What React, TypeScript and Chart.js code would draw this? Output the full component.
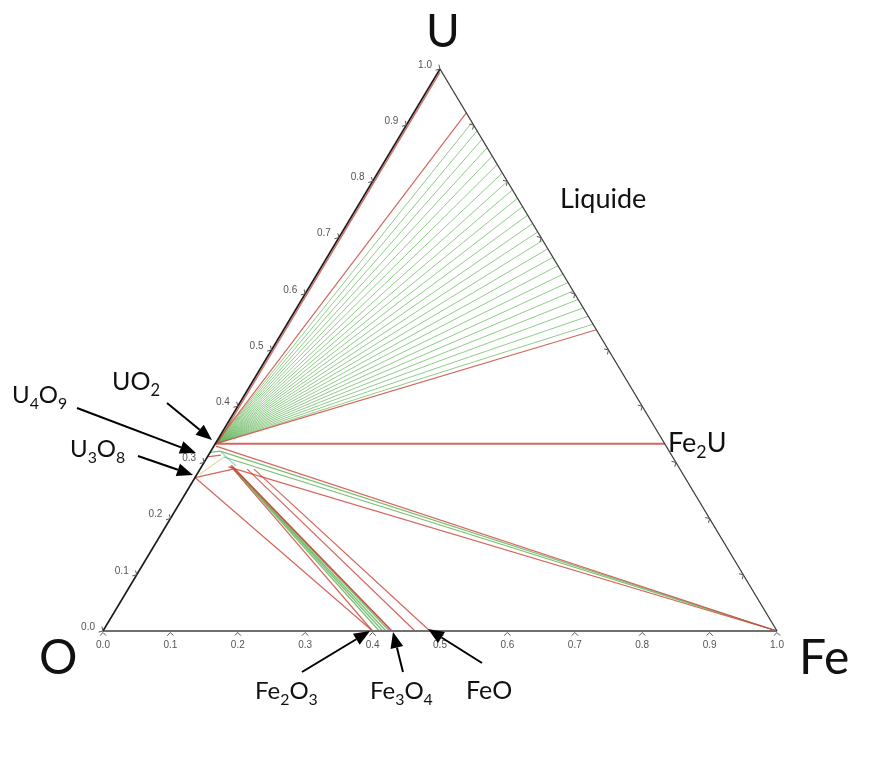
import React, { useEffect, useRef } from "react";
import { Chart, registerables } from "chart.js";

Chart.register(...registerables);

// ---------- data (compositions are [xFe, xU], xO = 1 - xFe - xU) ----------
const tickValues = [0, 0.1, 0.2, 0.3, 0.4, 0.5, 0.6, 0.7, 0.8, 0.9, 1.0];
const tickLabels = ["0.0", "0.1", "0.2", "0.3", "0.4", "0.5", "0.6", "0.7", "0.8", "0.9", "1.0"];

const UO2 = [0, 0.333];

// liquid compositions on the Fe–U edge (xU) tied to UO2
const liquidTieU = [
  0.905, 0.89, 0.875, 0.86, 0.845, 0.83, 0.815, 0.8, 0.785, 0.77, 0.755, 0.74, 0.725,
  0.71, 0.695, 0.68, 0.665, 0.65, 0.635, 0.62, 0.605, 0.59, 0.575, 0.56, 0.546,
];

// red tie-lines [xFe1, xU1, xFe2, xU2]
const redLines = [
  [0.003, 0.336, 0.003, 0.994],
  [0, 0.333, 0.078, 0.922],
  [0, 0.333, 0.464, 0.536],
  [0, 0.333, 0.667, 0.333],
  [0.003, 0.329, 1, 0],
  [0.04, 0.292, 1, 0],
  [0, 0.273, 0.049, 0.288],
  [0, 0.31, 0.0185, 0.313],
  [0, 0.273, 0.4, 0],
  [0.042, 0.294, 0.4, 0],
  [0.043, 0.295, 0.4286, 0],
  [0.05, 0.289, 0.4286, 0],
  [0.07, 0.288, 0.463, 0],
  [0.08, 0.288, 0.485, 0],
];

// green tie-lines [xFe1, xU1, xFe2, xU2]
const greenLines = [
  [0.0136, 0.32, 1, 0],
  [0.0247, 0.3096, 1, 0],
  [0, 0.318, 0.014, 0.32],
  [0.045, 0.292, 0.41, 0],
  [0.046, 0.292, 0.415, 0],
  [0.047, 0.291, 0.42, 0],
  [0.048, 0.291, 0.425, 0],
];

const cyanLines = [[0.0158, 0.3185, 0.0505, 0.2936]];
const yellowLines = [[0.004, 0.279, 0.0247, 0.3096]];

// ---------- annotation layout (pixels) ----------
const chemLabels = [
  { parts: ["U", "4", "O", "9"], x: 12, y: 403, size: 24 },
  { parts: ["U", "3", "O", "8"], x: 70, y: 457, size: 24 },
  { parts: ["UO", "2"], x: 112, y: 390, size: 25 },
  { parts: ["Fe", "2", "U"], x: 668, y: 452, size: 27 },
  { parts: ["Liquide"], x: 560, y: 208, size: 27 },
  { parts: ["Fe", "2", "O", "3"], x: 255, y: 699, size: 24 },
  { parts: ["Fe", "3", "O", "4"], x: 370, y: 699, size: 24 },
  { parts: ["FeO"], x: 466, y: 699, size: 25 },
];
const vertexLabels = [
  { text: "U", x: 443, y: 47, size: 46, align: "center" },
  { text: "O", x: 39, y: 674, size: 48, align: "left" },
  { text: "Fe", x: 799, y: 674, size: 48, align: "left" },
];
const arrows = [
  [167, 403, 212, 440],
  [77, 408, 196, 453],
  [138, 456, 193, 475],
  [302, 672, 370, 631],
  [403, 672, 393, 632],
  [482, 663, 428, 629],
];

const FONT = "Lato, 'Open Sans', 'DejaVu Sans', sans-serif";

function drawChem(ctx: CanvasRenderingContext2D, parts: string[], x: number, y: number, size: number) {
  let cx = x;
  parts.forEach((t, i) => {
    const sub = i % 2 === 1;
    const s = sub ? size * 0.66 : size;
    ctx.font = `${s}px ${FONT}`;
    ctx.fillText(t, cx, y + (sub ? size * 0.24 : 0));
    cx += ctx.measureText(t).width;
  });
}

const annotationPlugin = {
  id: "ternaryAnnotations",
  afterDatasetsDraw(chart: any) {
    const ctx: CanvasRenderingContext2D = chart.ctx;
    const sx = chart.scales.x;
    const sy = chart.scales.y;
    const px = (fe: number, u: number) => ({
      x: sx.getPixelForValue(fe + u / 2),
      y: sy.getPixelForValue(u),
    });
    ctx.save();
    ctx.strokeStyle = "#555";
    ctx.lineWidth = 1;
    ctx.fillStyle = "#555";
    ctx.font = "10px 'Liberation Sans', Arial, sans-serif";

    const chevron = (x: number, y: number, nx: number, ny: number) => {
      const L = 4.5;
      const c = Math.SQRT1_2;
      const a1 = { x: (nx * c - ny * c) * L, y: (nx * c + ny * c) * L };
      const a2 = { x: (nx * c + ny * c) * L, y: (-nx * c + ny * c) * L };
      ctx.beginPath();
      ctx.moveTo(x + a1.x, y + a1.y);
      ctx.lineTo(x, y);
      ctx.lineTo(x + a2.x, y + a2.y);
      ctx.stroke();
    };

    // bottom axis (xFe)
    tickValues.forEach((v, i) => {
      const p = px(v, 0);
      chevron(p.x, p.y + 1.5, 0, 1);
      ctx.textAlign = "center";
      ctx.textBaseline = "middle";
      ctx.fillText(tickLabels[i], p.x, p.y + 14);
    });
    // left edge (xU)
    const o = px(0, 0);
    const u = px(0, 1);
    const f = px(1, 0);
    let dx = u.x - o.x, dy = u.y - o.y;
    let len = Math.hypot(dx, dy);
    const nL = { x: dy / len, y: -dx / len };
    tickValues.forEach((v, i) => {
      const p = px(0, v);
      chevron(p.x, p.y, nL.x, nL.y);
      ctx.textAlign = "right";
      ctx.textBaseline = "middle";
      ctx.fillText(tickLabels[i], p.x - 8, p.y - 4);
    });
    // right edge
    dx = f.x - u.x; dy = f.y - u.y;
    len = Math.hypot(dx, dy);
    const nR = { x: -dy / len, y: dx / len };
    tickValues.slice(1, 10).forEach((v) => {
      const p = px(1 - v, v);
      chevron(p.x, p.y, nR.x, nR.y);
    });

    // chemical labels
    ctx.fillStyle = "#111";
    ctx.textAlign = "left";
    ctx.textBaseline = "alphabetic";
    chemLabels.forEach((l) => drawChem(ctx, l.parts, l.x, l.y, l.size));
    vertexLabels.forEach((l) => {
      ctx.font = `${l.size}px ${FONT}`;
      ctx.textAlign = l.align as CanvasTextAlign;
      ctx.fillText(l.text, l.x, l.y);
    });

    // arrows
    ctx.strokeStyle = "#000";
    ctx.fillStyle = "#000";
    ctx.lineWidth = 2;
    arrows.forEach(([x1, y1, x2, y2]) => {
      const ang = Math.atan2(y2 - y1, x2 - x1);
      const hl = 16, hw = 6.5;
      const bx = x2 - hl * Math.cos(ang);
      const by = y2 - hl * Math.sin(ang);
      ctx.beginPath();
      ctx.moveTo(x1, y1);
      ctx.lineTo(bx, by);
      ctx.stroke();
      ctx.beginPath();
      ctx.moveTo(x2, y2);
      ctx.lineTo(bx - hw * Math.sin(ang), by + hw * Math.cos(ang));
      ctx.lineTo(bx + hw * Math.sin(ang), by - hw * Math.cos(ang));
      ctx.closePath();
      ctx.fill();
    });
    ctx.restore();
  },
};

export default function App() {
  const ref = useRef<HTMLCanvasElement>(null);
  useEffect(() => {
    const canvas = ref.current;
    if (!canvas) return;
    const P = (fe: number, u: number) => ({ x: fe + u / 2, y: u });
    const datasets: any[] = [];
    const add = (data: any[], color: string, width: number) =>
      datasets.push({
        data,
        borderColor: color,
        backgroundColor: color,
        borderWidth: width,
        showLine: true,
        pointRadius: 0,
        pointHoverRadius: 0,
        fill: false,
        tension: 0,
        clip: false,
      });
    // triangle edges (drawn on top)
    add([P(0, 0), P(0, 1)], "#1a1a1a", 1.6);
    add([P(0, 1), P(1, 0)], "#3c3c3c", 1.3);
    add([P(0, 0), P(1, 0)], "#707070", 2.2);
    // red tie-lines
    redLines.forEach((l, i) =>
      add([P(l[0], l[1]), P(l[2], l[3])], "rgba(205,75,65,0.85)", i === 3 ? 2 : 1.2)
    );
    // green tie-lines
    liquidTieU.forEach((u) => add([P(UO2[0], UO2[1]), P(1 - u, u)], "rgba(110,185,100,0.75)", 1));
    greenLines.forEach((l) => add([P(l[0], l[1]), P(l[2], l[3])], "rgba(100,180,90,0.85)", 1.3));
    cyanLines.forEach((l) => add([P(l[0], l[1]), P(l[2], l[3])], "rgba(150,215,230,0.9)", 1.5));
    yellowLines.forEach((l) => add([P(l[0], l[1]), P(l[2], l[3])], "rgba(230,215,150,0.9)", 1.3));

    const chart = new Chart(canvas, {
      type: "scatter",
      data: { datasets },
      options: {
        animation: false,
        responsive: false,
        maintainAspectRatio: false,
        events: [],
        layout: { padding: { left: 103, right: 103, top: 69, bottom: 133 } },
        scales: {
          x: { type: "linear", min: 0, max: 1, display: false },
          y: { type: "linear", min: 0, max: 1, display: false },
        },
        plugins: { legend: { display: false }, tooltip: { enabled: false } },
      },
      plugins: [annotationPlugin],
    });
    let alive = true;
    if ((document as any).fonts && (document as any).fonts.load) {
      (document as any).fonts.load("24px Lato").then(() => {
        if (alive) chart.draw();
      });
    }
    return () => {
      alive = false;
      chart.destroy();
    };
  }, []);
  return (
    <div style={{ position: "absolute", left: 0, top: 0, width: 880, height: 764, background: "#fff" }}>
      <canvas ref={ref} width={880} height={764} style={{ display: "block" }} />
    </div>
  );
}
